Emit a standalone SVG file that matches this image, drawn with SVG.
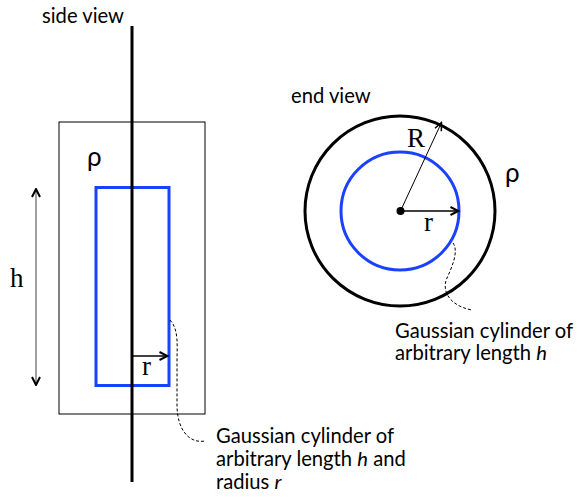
<svg xmlns="http://www.w3.org/2000/svg" width="577" height="498" viewBox="0 0 577 498">
<defs>
<style>
.lbl{font-family:Lato,"Liberation Sans",sans-serif;font-size:20.2px;fill:#000}
.ser{font-family:"Liberation Serif",serif;font-size:27px;fill:#000}
.rho{font-family:Lato,"Liberation Sans",sans-serif;font-size:26px;fill:#000}
.blue{fill:none;stroke:#1a41ff;stroke-width:3}
.dash{fill:none;stroke:#000;stroke-width:1;stroke-dasharray:3 2}
</style>
<marker id="ah" viewBox="0 0 10 10" refX="9" refY="5" markerWidth="10" markerHeight="10" markerUnits="userSpaceOnUse" orient="auto-start-reverse">
<path d="M1,1 L9,5 L1,9" fill="none" stroke="#000" stroke-width="2"/>
</marker>
<marker id="ahs" viewBox="0 0 10 10" refX="9" refY="5" markerWidth="10" markerHeight="10" markerUnits="userSpaceOnUse" orient="auto">
<path d="M1,1.5 L9,5 L1,8.5" fill="none" stroke="#000" stroke-width="1.5"/>
</marker>
</defs>
<rect width="577" height="498" fill="#fff"/>

<g id="side-view">
<text class="lbl" x="42" y="23">side view</text>
<rect id="outer-rect" x="59" y="122" width="146" height="292" fill="none" stroke="#000" stroke-width="1"/>
<text class="rho" x="87" y="166">ρ</text>
<rect id="gauss-rect" class="blue" x="96" y="187.5" width="73" height="198"/>
<line id="axis" x1="132" y1="26" x2="132" y2="482" stroke="#000" stroke-width="3"/>
<text class="ser" x="10" y="287">h</text>
<text class="ser" x="142" y="375">r</text>
<g id="side-label">
<text class="lbl" x="216" y="443">Gaussian cylinder of</text>
<text class="lbl" x="216" y="466">arbitrary length <tspan font-style="italic">h</tspan> and</text>
<text class="lbl" x="216" y="489">radius <tspan font-style="italic">r</tspan></text>
</g>
</g>

<g id="end-view">
<text class="lbl" x="291" y="103">end view</text>
<circle id="outer-circle" cx="400" cy="211" r="95" fill="none" stroke="#000" stroke-width="3"/>
<circle id="gauss-circle" class="blue" cx="400" cy="211" r="59"/>
<circle id="center-dot" cx="400.5" cy="211" r="4" fill="#000"/>
<text class="ser" x="407" y="147">R</text>
<text class="ser" x="424" y="231">r</text>
<text class="rho" x="505" y="182">ρ</text>
<g id="end-label">
<text class="lbl" x="395" y="338">Gaussian cylinder of</text>
<text class="lbl" x="395" y="360">arbitrary length <tspan font-style="italic">h</tspan></text>
</g>
</g>

<g id="connectors">
<line x1="36" y1="189" x2="36" y2="385" stroke="#808080" stroke-width="1.5" marker-start="url(#ah)" marker-end="url(#ah)"/>
<line x1="132" y1="356" x2="167.5" y2="356" stroke="#000" stroke-width="1.5" marker-end="url(#ah)"/>
<line x1="400.5" y1="211" x2="441.5" y2="122.5" stroke="#000" stroke-width="1" marker-end="url(#ahs)"/>
<line x1="400.5" y1="211" x2="458.5" y2="211" stroke="#000" stroke-width="1.5" marker-end="url(#ah)"/>
<path class="dash" d="M170,320 C179,330 177,345 177,362 L177,405 C177,428 188,444 205,441"/>
<path class="dash" d="M453,243 C459,251 452,267 447,278 C441,291 450,306 472,310"/>
</g>
</svg>
